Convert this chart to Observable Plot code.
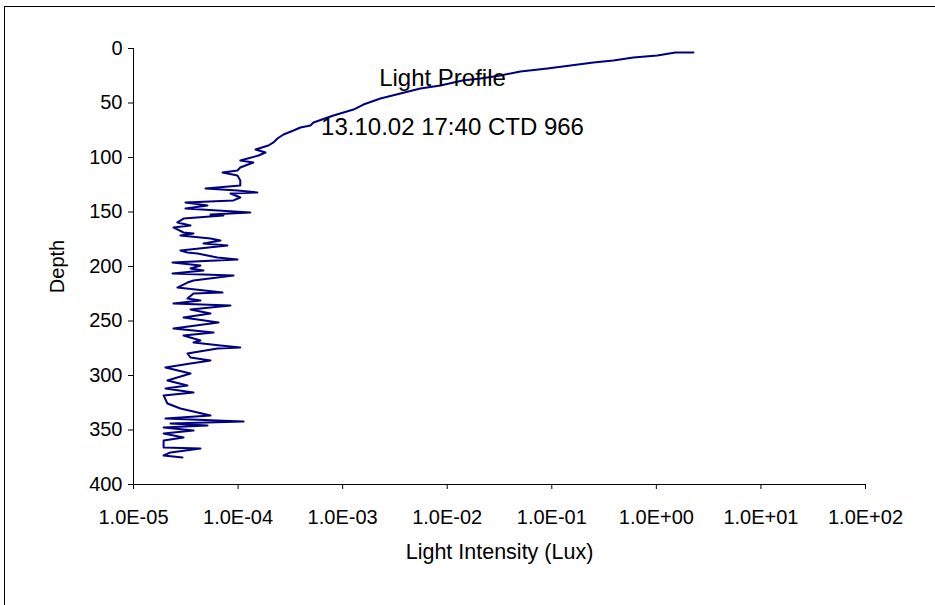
<!DOCTYPE html>
<html>
<head>
<meta charset="utf-8">
<script src="https://cdn.jsdelivr.net/npm/d3@7"></script>
<script src="https://cdn.jsdelivr.net/npm/@observablehq/plot@0.6"></script>
<style>
  html, body { margin: 0; padding: 0; background: #fff; }
  #wrap { position: relative; width: 935px; height: 605px; overflow: hidden; }
  #frame { position: absolute; left: 4px; top: 6px; width: 940px; height: 610px; border: 1.5px solid #000; box-sizing: border-box; }
  #chart { position: absolute; left: 0; top: 0; }
</style>
</head>
<body>
<div id="wrap"><div id="frame"></div><div id="chart"></div></div>
<script>
const title = "Light Profile";
const subtitle = "13.10.02 17:40 CTD 966";
const xLabel = "Light Intensity (Lux)";
const yLabel = "Depth";
const xTicks = [1e-5, 1e-4, 1e-3, 1e-2, 1e-1, 1e0, 1e1, 1e2];
const yTicks = [0, 50, 100, 150, 200, 250, 300, 350, 400];

const depth = [
  3.7, 3.7, 6.4, 8.3, 11.0, 12.8, 15.6, 18.3, 21.1, 24.8,
  27.5, 29.4, 33.9, 36.7, 41.3, 45.9, 51.4, 56.0, 61.5, 67.9,
  70.6, 72.5, 75.2, 78.9, 82.6, 86.2, 89.0, 92.7, 95.4, 98.2,
  102.8, 104.6, 109.2, 111.9, 113.8, 116.5, 121.1, 125.7, 128.4, 130.3,
  132.1, 133.0, 136.7, 139.4, 141.3, 144.0, 146.8, 150.5, 152.3, 153.2,
  156.0, 159.6, 162.4, 164.2, 168.8, 169.7, 171.6, 174.3, 176.1, 178.9,
  180.7, 185.3, 187.2, 188.1, 191.7, 193.6, 196.3, 199.1, 201.8, 203.7,
  206.4, 208.3, 212.8, 214.7, 219.3, 223.9, 224.8, 229.4, 231.2, 233.9,
  235.8, 239.4, 243.1, 246.8, 251.4, 256.9, 260.6, 263.3, 267.9, 269.7,
  272.5, 274.3, 275.2, 279.8, 283.5, 286.2, 289.0, 292.7, 298.2, 304.6,
  309.2, 311.9, 315.6, 318.3, 325.7, 330.3, 336.7, 339.4, 342.2, 344.0,
  345.9, 347.7, 350.5, 353.2, 356.9, 359.6, 366.1, 367.0, 370.6, 373.4,
  375.2
];
const lux = [
  2.26, 1.52, 1.02, 0.603, 0.388, 0.250, 0.151, 0.0908, 0.0501, 0.0323,
  0.0208, 0.0140, 0.00861, 0.00554, 0.00357, 0.00230, 0.00158, 0.00127, 0.000817, 0.000526,
  0.000492, 0.000395, 0.000339, 0.000272, 0.000238, 0.000218, 0.000195, 0.000147, 0.000183, 0.000157,
  0.000105, 0.000140, 0.000105, 0.0000987, 0.0000710, 0.0000987, 0.000105, 0.000105, 0.0000488, 0.0000987,
  0.000153, 0.0000846, 0.000105, 0.0000904, 0.0000314, 0.0000510, 0.0000314, 0.000131, 0.0000545, 0.0000725,
  0.0000301, 0.0000263, 0.0000351, 0.0000241, 0.0000301, 0.0000375, 0.0000281, 0.0000545, 0.0000679, 0.0000467,
  0.0000792, 0.0000281, 0.0000328, 0.0000409, 0.0000635, 0.0000987, 0.0000236, 0.0000437, 0.0000351, 0.0000467,
  0.0000236, 0.0000904, 0.0000375, 0.0000328, 0.0000263, 0.0000710, 0.0000375, 0.0000328, 0.0000437, 0.0000241,
  0.0000846, 0.0000351, 0.0000545, 0.0000301, 0.0000650, 0.0000241, 0.0000582, 0.0000301, 0.0000437, 0.0000375,
  0.0000679, 0.000105, 0.0000635, 0.0000328, 0.0000351, 0.0000545, 0.0000351, 0.0000202, 0.0000351, 0.0000211,
  0.0000328, 0.0000202, 0.0000375, 0.0000194, 0.0000211, 0.0000281, 0.0000545, 0.0000202, 0.000113, 0.0000226,
  0.0000510, 0.0000194, 0.0000375, 0.0000194, 0.0000301, 0.0000194, 0.0000194, 0.0000437, 0.0000226, 0.0000194,
  0.0000294
];

const data = depth.map((d, i) => ({depth: d, lux: lux[i]}));
const fmt = v => {
  const e = Math.round(Math.log10(v));
  return "1.0E" + (e < 0 ? "-" : "+") + String(Math.abs(e)).padStart(2, "0");
};

const chart = Plot.plot({
  width: 935,
  height: 605,
  marginLeft: 133,
  marginRight: 70,
  marginTop: 48,
  marginBottom: 121,
  style: {fontFamily: "'Liberation Sans', Arial, sans-serif", fontSize: "20px", color: "#000", background: "transparent"},
  x: {type: "log", domain: [xTicks[0], xTicks[xTicks.length - 1]]},
  y: {domain: [yTicks[0], yTicks[yTicks.length - 1]], reverse: true},
  marks: [
    Plot.axisX({ticks: xTicks, tickFormat: fmt, tickSize: 5, tickPadding: 20, label: null, stroke: "#000"}),
    Plot.axisY({ticks: yTicks, tickSize: 5, tickPadding: 6, label: null, stroke: "#000"}),
    Plot.ruleX([xTicks[0]], {stroke: "#000", strokeWidth: 1}),
    Plot.ruleY([yTicks[yTicks.length - 1]], {stroke: "#000", strokeWidth: 1}),
    Plot.line(data, {x: "lux", y: "depth", stroke: "#000080", strokeWidth: 2, curve: "linear"}),
    Plot.text([title], {frameAnchor: "top", textAnchor: "middle", dx: -57, dy: 20, fontSize: 24, fill: "#000"}),
    Plot.text([subtitle], {frameAnchor: "top", textAnchor: "middle", dx: -47, dy: 69, fontSize: 24, fill: "#000"}),
    Plot.text([xLabel], {frameAnchor: "bottom", textAnchor: "middle", dy: 74, fontSize: 21.5, fill: "#000"}),
    Plot.text([yLabel], {frameAnchor: "left", textAnchor: "middle", dx: -76, rotate: -90, fontSize: 20, fill: "#000"})
  ]
});
document.getElementById("chart").appendChild(chart);
</script>
</body>
</html>
